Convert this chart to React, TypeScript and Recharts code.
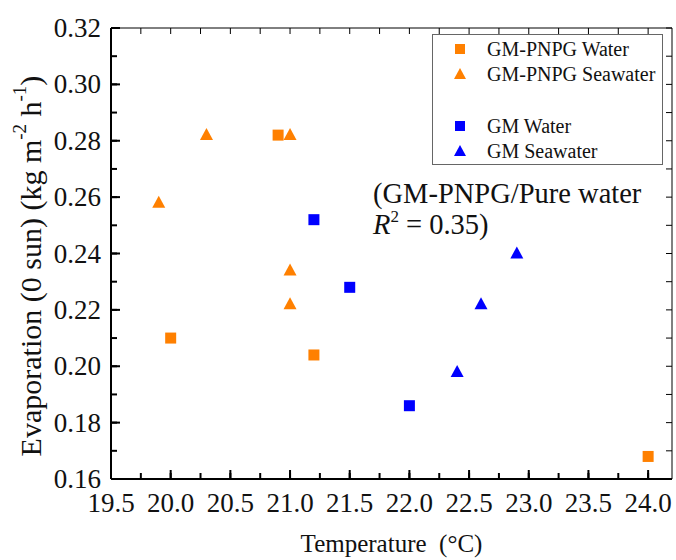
import { ScatterChart, Scatter, XAxis, YAxis, Label } from 'recharts';

const pnpgWaterTemp = [20.0, 20.9, 21.2, 24.0];
const pnpgWaterEvap = [0.21, 0.282, 0.204, 0.168];
const pnpgSeaTemp = [19.9, 20.3, 21.0, 21.0, 21.0];
const pnpgSeaEvap = [0.258, 0.282, 0.282, 0.234, 0.222];
const gmWaterTemp = [21.2, 21.5, 22.0];
const gmWaterEvap = [0.252, 0.228, 0.186];
const gmSeaTemp = [22.4, 22.6, 22.9];
const gmSeaEvap = [0.198, 0.222, 0.24];

const xMajor = [19.5, 20.0, 20.5, 21.0, 21.5, 22.0, 22.5, 23.0, 23.5, 24.0];
const xMinor = [19.75, 20.25, 20.75, 21.25, 21.75, 22.25, 22.75, 23.25, 23.75];
const yMajor = [0.16, 0.18, 0.2, 0.22, 0.24, 0.26, 0.28, 0.3, 0.32];
const yMinor = [0.17, 0.19, 0.21, 0.23, 0.25, 0.27, 0.29, 0.31];

const ORANGE = '#FF8000';
const BLUE = '#0000FF';
const FONT = '"Liberation Serif", "Times New Roman", serif';

const toPoints = (temps: number[], evaps: number[]) =>
  temps.map((t, i) => ({ temp: t, evap: evaps[i] }));

const series = [
  { name: 'GM-PNPG Water', color: ORANGE, shape: 'square', data: toPoints(pnpgWaterTemp, pnpgWaterEvap) },
  { name: 'GM-PNPG Seawater', color: ORANGE, shape: 'triangle', data: toPoints(pnpgSeaTemp, pnpgSeaEvap) },
  { name: 'GM Water', color: BLUE, shape: 'square', data: toPoints(gmWaterTemp, gmWaterEvap) },
  { name: 'GM Seawater', color: BLUE, shape: 'triangle', data: toPoints(gmSeaTemp, gmSeaEvap) },
];

const xTicks = [...xMajor, ...xMinor].sort((a, b) => a - b);
const yTicks = [...yMajor, ...yMinor].sort((a, b) => a - b);
const isMajor = (list: number[], v: number) => list.some((m) => Math.abs(m - v) < 1e-6);

const TICK = 6; // inward tick length (negative tickSize)
const frameLine = { stroke: '#000', strokeWidth: 2 };
const legendRows = [49, 74, 126, 151];

const Square = (props: any) => {
  const { cx, cy, fill } = props;
  return <rect x={cx - 5.5} y={cy - 5.5} width={11} height={11} fill={fill} />;
};

const Triangle = (props: any) => {
  const { cx, cy, fill } = props;
  return <polygon points={`${cx},${cy - 7} ${cx - 6.5},${cy + 5} ${cx + 6.5},${cy + 5}`} fill={fill} />;
};

// labels only on major ticks; majors also get a longer tick mark
const BottomTick = (props: any) => {
  const { x, y, payload } = props;
  if (!isMajor(xMajor, payload.value)) return <g />;
  return (
    <g>
      <rect x={x - 1} y={y - 9} width={2} height={9} fill="#000" />
      <text x={x} y={y + 33} textAnchor="middle" fontSize={27} fontFamily={FONT} fill="#111">
        {payload.value.toFixed(1)}
      </text>
    </g>
  );
};

const LeftTick = (props: any) => {
  const { x, y, payload } = props;
  if (!isMajor(yMajor, payload.value)) return <g />;
  return (
    <g>
      <rect x={x} y={y - 1} width={9} height={2} fill="#000" />
      <text x={x - 10} y={y + 9} textAnchor="end" fontSize={27} fontFamily={FONT} fill="#111">
        {payload.value.toFixed(2)}
      </text>
    </g>
  );
};

const noLabel = () => '';

// y title plus the in-plot legend box and the fit note, all as svg text
const Overlay = () => {
  const cx = 30;
  const cy = 266;
  return (
    <g fontFamily={FONT} fill="#111">
      <text
        x={cx}
        y={cy}
        transform={`rotate(-90 ${cx} ${cy})`}
        textAnchor="middle"
        dominantBaseline="central"
        fontSize={30}
      >
        Evaporation (0 sun) (kg m
        <tspan fontSize={19} dy={-11}>-2</tspan>
        <tspan dy={11}> h</tspan>
        <tspan fontSize={19} dy={-11}>-1</tspan>
        <tspan dy={11}>)</tspan>
      </text>

      <rect x={432.5} y={34.5} width={230} height={130} fill="#fff" stroke="#666" strokeWidth={1} />
      {series.map((s, i) => {
        const ry = legendRows[i];
        return (
          <g key={s.name}>
            {s.shape === 'square' ? (
              <rect x={455} y={ry - 5} width={10} height={10} fill={s.color} />
            ) : (
              <polygon points={`460,${ry - 6} 454,${ry + 5} 466,${ry + 5}`} fill={s.color} />
            )}
            <text x={487} y={ry + 7} fontSize={20}>
              {s.name}
            </text>
          </g>
        );
      })}

      <text x={373} y={203} fontSize={28.5}>
        (GM-PNPG/Pure water
      </text>
      <text x={373} y={234} fontSize={28.5}>
        <tspan fontStyle="italic">R</tspan>
        <tspan fontSize={17} dy={-12}>2</tspan>
        <tspan dy={12}> = 0.35)</tspan>
      </text>
    </g>
  );
};

const App = () => {
  return (
    <div
      style={{
        position: 'absolute',
        left: 0,
        top: 0,
        width: 676,
        height: 560,
        overflow: 'hidden',
        background: '#fff',
      }}
    >
      {/* chart is 16px wider so the right frame axis has room; the overflow is hidden */}
      <ScatterChart width={692} height={560} margin={{ top: 8, right: 0, bottom: 0, left: 0 }}>
        <XAxis
          xAxisId="bottom"
          type="number"
          dataKey="temp"
          domain={[19.5, 24.2]}
          ticks={xTicks}
          interval={0}
          height={81}
          tickSize={-TICK}
          tickMargin={TICK}
          tickLine={frameLine}
          tick={<BottomTick />}
          axisLine={frameLine}
          stroke="#000"
          allowDataOverflow
        >
          <Label
            value={'Temperature\u00a0\u00a0(°C)'}
            position="insideBottom"
            offset={8}
            style={{ fontSize: 25, fontFamily: FONT, fill: '#111' }}
          />
        </XAxis>
        <XAxis
          xAxisId="top"
          orientation="top"
          type="number"
          dataKey="temp"
          domain={[19.5, 24.2]}
          ticks={xTicks}
          interval={0}
          height={20}
          tickSize={-TICK}
          tickFormatter={noLabel}
          stroke="#000"
          allowDataOverflow
        />
        <YAxis
          yAxisId="left"
          type="number"
          dataKey="evap"
          domain={[0.16, 0.32]}
          ticks={yTicks}
          interval={0}
          width={111}
          tickSize={-TICK}
          tickMargin={TICK}
          tickLine={frameLine}
          tick={<LeftTick />}
          axisLine={frameLine}
          stroke="#000"
          label={<Overlay />}
          allowDataOverflow
        />
        <YAxis
          yAxisId="right"
          orientation="right"
          type="number"
          dataKey="evap"
          domain={[0.16, 0.32]}
          ticks={yTicks}
          interval={0}
          width={20}
          tickSize={-TICK}
          tickFormatter={noLabel}
          stroke="#000"
          allowDataOverflow
        />
        {series.map((s) => (
          <Scatter
            key={s.name}
            name={s.name}
            data={s.data}
            xAxisId="bottom"
            yAxisId="left"
            fill={s.color}
            shape={s.shape === 'square' ? <Square /> : <Triangle />}
            isAnimationActive={false}
          />
        ))}
      </ScatterChart>
    </div>
  );
};

export default App;
